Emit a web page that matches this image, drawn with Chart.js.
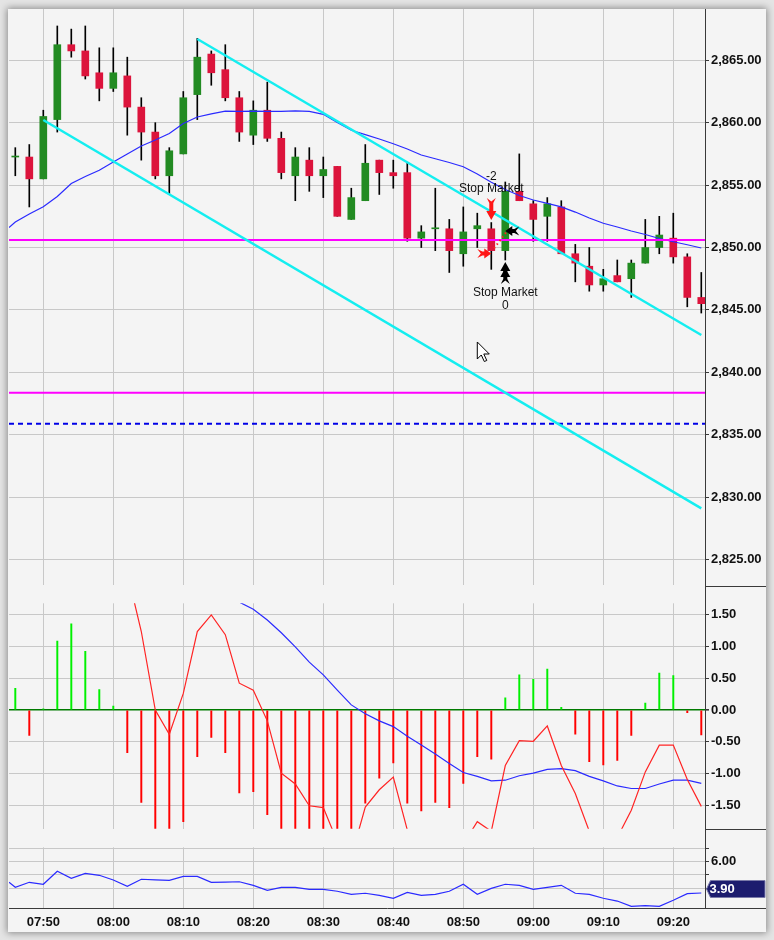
<!DOCTYPE html>
<html>
<head>
<meta charset="utf-8">
<script src="https://cdn.jsdelivr.net/npm/chart.js@4.4.1/dist/chart.umd.min.js"></script>
<style>
html, body { margin: 0; padding: 0; background: #e4e4e4; width: 774px; height: 940px; overflow: hidden; }
#frame { position: absolute; left: 8px; top: 9px; width: 758px; height: 923px; background: #f4f4f4; box-shadow: 0 0 7px 1px rgba(0,0,0,0.4); }
canvas { position: absolute; }
</style>
</head>
<body>
<div id="frame"></div>
<canvas id="priceChart" width="757" height="578" style="left:9px;top:9px"></canvas>
<canvas id="oscChart" width="757" height="243" style="left:9px;top:587px"></canvas>
<canvas id="volChart" width="757" height="102" style="left:9px;top:830px"></canvas>
<script>
// 2 minute bars
const times = ['07:46','07:48','07:50','07:52','07:54','07:56','07:58','08:00','08:02','08:04',
  '08:06','08:08','08:10','08:12','08:14','08:16','08:18','08:20','08:22','08:24',
  '08:26','08:28','08:30','08:32','08:34','08:36','08:38','08:40','08:42','08:44',
  '08:46','08:48','08:50','08:52','08:54','08:56','08:58','09:00','09:02','09:04',
  '09:06','09:08','09:10','09:12','09:14','09:16','09:18','09:20','09:22','09:24'];
const opens = [2857.25,2857.25,2855.5,2860.25,2866.25,2865.75,2864.0,2862.75,2863.75,2861.25,
  2859.25,2855.75,2857.5,2862.25,2865.5,2864.25,2862.0,2859.0,2861.0,2858.75,
  2855.75,2857.0,2855.75,2856.5,2852.25,2853.75,2857.0,2856.0,2856.0,2850.75,
  2851.5,2851.5,2849.5,2851.5,2851.5,2849.75,2854.5,2853.5,2852.5,2853.25,
  2849.5,2848.5,2847.0,2847.75,2847.5,2848.75,2850.0,2850.75,2849.25,2846.0];
const highs = [2858.0,2858.25,2861.0,2867.75,2867.5,2867.75,2866.0,2866.0,2865.25,2862.0,
  2860.0,2858.0,2862.5,2866.75,2865.75,2866.25,2862.5,2861.75,2863.25,2859.25,
  2858.0,2858.0,2857.25,2856.5,2854.75,2858.25,2857.0,2857.0,2856.75,2851.75,
  2854.75,2852.25,2853.25,2852.75,2852.0,2855.25,2857.5,2853.75,2854.0,2853.75,
  2850.25,2850.0,2848.25,2849.0,2849.0,2852.25,2852.5,2852.75,2849.5,2848.0];
const lows = [2855.75,2853.25,2855.5,2859.25,2865.25,2863.5,2861.75,2862.5,2859.0,2857.0,
  2855.5,2854.25,2857.5,2860.25,2863.0,2861.75,2858.5,2858.25,2858.5,2855.5,
  2853.75,2854.5,2854.0,2852.5,2852.25,2853.75,2854.25,2854.75,2850.5,2850.0,
  2849.75,2848.0,2848.5,2850.0,2848.25,2849.0,2853.75,2850.5,2850.5,2849.5,
  2847.25,2846.5,2846.5,2847.25,2846.0,2848.75,2849.5,2848.75,2845.25,2844.75];
const closes = [2857.25,2855.5,2860.5,2866.25,2865.75,2863.75,2862.75,2864.0,2861.25,2859.25,
  2855.75,2857.75,2862.0,2865.25,2864.0,2862.0,2859.25,2861.0,2858.75,2856.0,
  2857.25,2855.75,2856.25,2852.5,2854.0,2856.75,2856.0,2855.75,2850.75,2851.25,
  2851.5,2849.75,2851.25,2851.75,2849.75,2854.5,2853.75,2852.25,2853.5,2849.5,
  2848.75,2847.0,2847.5,2847.25,2848.75,2850.0,2851.0,2849.25,2846.0,2845.5];
const movingAvg = [2852.04,2852.69,2853.27,2854.09,2855.13,2855.69,2856.19,2856.85,2857.49,2858.13,
  2858.61,2859.13,2859.94,2860.46,2860.71,2860.92,2860.90,2860.92,2860.91,2860.91,
  2860.94,2860.90,2860.67,2860.02,2859.39,2859.05,2858.69,2858.31,2857.89,2857.41,
  2857.11,2856.81,2856.47,2855.89,2855.23,2854.65,2854.17,2853.81,2853.53,2853.25,
  2852.84,2852.36,2851.94,2851.64,2851.32,2851.04,2850.72,2850.46,2850.22,2849.96];
// average value at the left edge of the window, before the first bar
const movingAvgEdge = { time: 465.1, price: 2851.6 };

// drawn objects on the price panel
const magentaLevels = [2850.6, 2838.37];
const dashedLevel = 2835.88;
const trendUpperTimes = ['08:12', '09:24'];
const trendUpperPrices = [2866.71, 2842.99];
const trendLowerTimes = ['07:50', '09:24'];
const trendLowerPrices = [2860.22, 2829.10];
const tradeLineMinutes = [534.4, 536.2];
const tradeLinePrices = [2849.94, 2851.27];
const markerTimes = ['08:54', '08:56', '08:54', '08:56'];
const markerPrices = [2852.2, 2848.84, 2849.53, 2851.32];
const markerKinds = ['down', 'up', 'right', 'left'];
const markerColors = ['#ff1616', '#000000', '#ff1616', '#000000'];
const noteTimes = ['08:54', '08:54', '08:56', '08:56'];
const notePrices = [2855.67, 2854.69, 2846.35, 2845.31];
const noteTexts = ['-2', 'Stop Market', 'Stop Market', '0'];
const cursorTime = '08:52';
const cursorPrice = 2842.43;

// oscillator panel
const oscHist = [0.34,-0.40,0.02,1.08,1.35,0.92,0.32,0.06,-0.67,-1.45,
  -2.05,-2.2,-1.75,-0.73,-0.43,-0.67,-1.30,-1.28,-1.64,-1.98,
  -2.15,-2.3,-2.35,-2.4,-2.2,-1.46,-1.07,-0.83,-1.46,-1.58,
  -1.45,-1.53,-1.15,-0.73,-0.77,0.19,0.55,0.48,0.64,0.04,
  -0.38,-0.81,-0.86,-0.79,-0.40,0.11,0.58,0.54,-0.04,-0.39];
const oscFast = [2.6,2.75,2.9,3.3,3.55,3.5,3.2,2.8,2.15,1.23,
  0.0,-0.38,0.26,1.23,1.49,1.18,0.42,0.31,-0.17,-0.99,
  -1.16,-1.50,-1.53,-2.06,-2.3,-1.52,-1.25,-1.05,-1.88,-2.1,
  -2.3,-2.2,-2.1,-1.75,-1.9,-0.87,-0.48,-0.49,-0.25,-0.87,
  -1.31,-1.9,-2.1,-2.0,-1.57,-0.97,-0.55,-0.55,-1.09,-1.51];
const oscSlow = [2.3,2.4,2.5,2.6,2.7,2.8,2.85,2.85,2.8,2.7,
  2.55,2.4,2.25,2.1,1.95,1.81,1.69,1.58,1.41,1.21,
  0.99,0.75,0.55,0.31,0.08,-0.06,-0.17,-0.26,-0.41,-0.55,
  -0.69,-0.84,-0.98,-1.04,-1.11,-1.10,-1.03,-0.99,-0.93,-0.92,
  -0.95,-1.04,-1.11,-1.19,-1.23,-1.23,-1.16,-1.10,-1.10,-1.15];

// lower panel
const lowerLine = [4.06,4.44,4.29,5.27,4.74,5.12,4.97,4.61,4.14,4.67,
  4.63,4.59,4.89,4.89,4.44,4.46,4.48,4.21,3.83,4.06,
  4.06,3.91,3.91,3.76,3.53,3.61,3.45,3.23,3.68,3.45,
  3.53,3.76,4.29,3.53,3.98,4.29,4.21,3.91,4.06,4.21,
  3.61,3.53,3.23,3.02,2.62,2.67,2.62,3.08,3.58,3.63];
const lowerEdge = { time: 465.1, value: 4.44 };
const lowerTag = 3.90;

// axis ticks
const timeTickLabels = ['07:50','08:00','08:10','08:20','08:30','08:40','08:50','09:00','09:10','09:20'];
const priceTicks = [2825, 2830, 2835, 2840, 2845, 2850, 2855, 2860, 2865];
const oscTicks = [-1.5, -1, -0.5, 0, 0.5, 1, 1.5];
const lowerTicks = [4, 5, 6, 7];
const lowerLabelled = [6];

const xMin = 465.1, xMax = 564.53;
const toMin = s => Number(s.slice(0, 2)) * 60 + Number(s.slice(3, 5));
const barMinutes = times.map(toMin);
const timeTickMinutes = timeTickLabels.map(toMin);

Chart.defaults.font.family = '"Liberation Sans", Arial, sans-serif';
Chart.defaults.animation = false;

const GRID = '#c8c8c8';
const AXIS_LINE = '#3a3a3a';

function timeAxis(showLabels) {
    return {
        type: 'linear', min: xMin, max: xMax, offset: false,
        afterBuildTicks: a => { a.ticks = timeTickMinutes.map(v => ({ value: v })); },
        afterFit: a => { a.height = showLabels ? 23.7 : 0; a.paddingLeft = 0; a.paddingRight = 0; },
        grid: { color: GRID, drawTicks: false, offset: false },
        border: { display: false },
        ticks: {
            display: showLabels, padding: 6, color: '#111', autoSkip: false, maxRotation: 0,
            font: { size: 13, weight: 'bold' },
            callback: (v, i) => timeTickLabels[i]
        }
    };
}

function valueAxis(min, max, tickValues, fmt, gridColor, gridWidth) {
    return {
        position: 'right', min: min, max: max,
        afterBuildTicks: a => { a.ticks = tickValues.map(v => ({ value: v })); },
        afterFit: a => { a.width = 61; a.paddingTop = 0; a.paddingBottom = 0; },
        grid: { color: gridColor || GRID, lineWidth: gridWidth || 1, tickColor: AXIS_LINE, tickLength: 4 },
        border: { display: false },
        ticks: { padding: 2, color: '#111', font: { size: 13, weight: 'bold' }, callback: fmt }
    };
}

// separators and axis lines of the window
const frameLines = {
    id: 'frameLines',
    afterDraw(chart, args, opts) {
        const { ctx, chartArea: a, width, height } = chart;
        const x = Math.round(a.right) + 0.5;
        ctx.save();
        ctx.strokeStyle = AXIS_LINE;
        ctx.lineWidth = 1;
        ctx.beginPath();
        if (opts.axisBottom) {
            const yb = Math.round(a.bottom) + 0.5;
            ctx.moveTo(x, 0); ctx.lineTo(x, yb);
            ctx.moveTo(0, yb); ctx.lineTo(width, yb);
        } else {
            ctx.moveTo(x, 0); ctx.lineTo(x, height);
            ctx.moveTo(a.right, height - 0.5); ctx.lineTo(width, height - 0.5);
        }
        ctx.stroke();
        ctx.restore();
    }
};

function drawArrow(ctx, px, py, kind, color) {
    const rot = { down: 0, up: Math.PI, right: -Math.PI / 2, left: Math.PI / 2 }[kind];
    const vertical = kind === 'down' || kind === 'up';
    const len = vertical ? 22 : 14;
    const head = vertical ? 9 : 7;
    ctx.save();
    ctx.translate(px, py);
    ctx.rotate(rot);
    ctx.fillStyle = color;
    ctx.beginPath();
    ctx.moveTo(0, 0);
    ctx.lineTo(-5, -head);
    ctx.lineTo(-2, -head);
    ctx.lineTo(-2, -len + 5);
    ctx.lineTo(-4.5, -len);
    ctx.lineTo(0, -len + 3.5);
    ctx.lineTo(4.5, -len);
    ctx.lineTo(2, -len + 5);
    ctx.lineTo(2, -head);
    ctx.lineTo(5, -head);
    ctx.closePath();
    ctx.fill();
    if (kind === 'up') {
        ctx.beginPath();
        ctx.moveTo(0, -6); ctx.lineTo(-5, -15); ctx.lineTo(5, -15);
        ctx.closePath();
        ctx.fill();
    }
    ctx.restore();
}

const tradeMarks = {
    id: 'tradeMarks',
    afterDatasetsDraw(chart) {
        const { ctx, scales: { x, y } } = chart;
        ctx.save();
        ctx.font = '12px "Liberation Sans", Arial, sans-serif';
        ctx.fillStyle = '#111';
        ctx.textAlign = 'center';
        ctx.textBaseline = 'middle';
        noteTexts.forEach((txt, i) => {
            ctx.fillText(txt, x.getPixelForValue(toMin(noteTimes[i])), y.getPixelForValue(notePrices[i]));
        });
        markerKinds.forEach((kind, i) => {
            drawArrow(ctx, x.getPixelForValue(toMin(markerTimes[i])), y.getPixelForValue(markerPrices[i]), kind, markerColors[i]);
        });
        // mouse pointer
        const cx = x.getPixelForValue(toMin(cursorTime)), cy = y.getPixelForValue(cursorPrice);
        ctx.translate(cx, cy);
        ctx.beginPath();
        ctx.moveTo(0, 0); ctx.lineTo(0, 17); ctx.lineTo(4, 13); ctx.lineTo(7, 19.5);
        ctx.lineTo(9.5, 18.5); ctx.lineTo(6.5, 12); ctx.lineTo(12, 12);
        ctx.closePath();
        ctx.fillStyle = '#fff';
        ctx.fill();
        ctx.strokeStyle = '#000';
        ctx.lineWidth = 1;
        ctx.stroke();
        ctx.restore();
    }
};

const valueTag = {
    id: 'valueTag',
    afterDraw(chart, args, opts) {
        const { ctx, chartArea: a, width, scales: { y } } = chart;
        const py = Math.round(y.getPixelForValue(opts.value));
        const x0 = a.right + 1.5, x1 = width - 1;
        ctx.save();
        ctx.beginPath();
        ctx.moveTo(x0, py);
        ctx.lineTo(x0 + 4, py - 8.5);
        ctx.lineTo(x1, py - 8.5);
        ctx.lineTo(x1, py + 8.5);
        ctx.lineTo(x0 + 4, py + 8.5);
        ctx.closePath();
        ctx.fillStyle = '#1c1c6e';
        ctx.fill();
        ctx.strokeStyle = '#7a7aa8';
        ctx.lineWidth = 1;
        ctx.stroke();
        ctx.fillStyle = '#fff';
        ctx.font = 'bold 13px "Liberation Sans", Arial, sans-serif';
        ctx.textBaseline = 'middle';
        ctx.fillText(opts.value.toFixed(2), x0 + 3, py + 0.5);
        ctx.restore();
    }
};

function twoPoint(tA, tB, pA, pB) {
    return [{ x: tA, y: pA }, { x: tB, y: pB }];
}

const lineBase = { type: 'line', pointRadius: 0, fill: false, tension: 0 };

// price panel
new Chart(document.getElementById('priceChart'), {
    type: 'bar',
    data: {
        datasets: [
            Object.assign({}, lineBase, {
                data: twoPoint(xMin, xMax, magentaLevels[0], magentaLevels[0]),
                borderColor: '#ff00ff', borderWidth: 2, order: 4
            }),
            Object.assign({}, lineBase, {
                data: twoPoint(xMin, xMax, magentaLevels[1], magentaLevels[1]),
                borderColor: '#ff00ff', borderWidth: 2, order: 4
            }),
            Object.assign({}, lineBase, {
                data: twoPoint(xMin, xMax, dashedLevel, dashedLevel),
                borderColor: '#0000e6', borderWidth: 2, borderDash: [5, 4], order: 4
            }),
            Object.assign({}, lineBase, {
                data: twoPoint(toMin(trendUpperTimes[0]), toMin(trendUpperTimes[1]), trendUpperPrices[0], trendUpperPrices[1]),
                borderColor: '#14eef0', borderWidth: 2.5, order: 3
            }),
            Object.assign({}, lineBase, {
                data: twoPoint(toMin(trendLowerTimes[0]), toMin(trendLowerTimes[1]), trendLowerPrices[0], trendLowerPrices[1]),
                borderColor: '#14eef0', borderWidth: 2.5, order: 3
            }),
            Object.assign({}, lineBase, {
                data: [{ x: movingAvgEdge.time, y: movingAvgEdge.price }]
                    .concat(barMinutes.map((m, i) => ({ x: m, y: movingAvg[i] }))),
                borderColor: '#2a2aff', borderWidth: 1.2, order: 5
            }),
            Object.assign({}, lineBase, {
                data: twoPoint(tradeLineMinutes[0], tradeLineMinutes[1], tradeLinePrices[0], tradeLinePrices[1]),
                borderColor: '#ff2020', borderWidth: 2, borderDash: [1.5, 3], order: 2
            }),
            {
                type: 'bar',
                data: barMinutes.map((m, i) => ({ x: m, y: [lows[i], highs[i]] })),
                backgroundColor: '#000', barThickness: 1, grouped: false, order: 10
            },
            {
                type: 'bar',
                data: barMinutes.map((m, i) => ({ x: m, y: [opens[i], closes[i]] })),
                backgroundColor: closes.map((c, i) => c >= opens[i] ? '#228b22' : '#dc143c'),
                barThickness: 7, minBarLength: 1, grouped: false, order: 9
            }
        ]
    },
    options: {
        responsive: false,
        layout: { autoPadding: false, padding: { top: 0, bottom: 2, left: 0, right: 0 } },
        plugins: { legend: { display: false }, tooltip: { enabled: false }, frameLines: { axisBottom: false } },
        scales: {
            x: timeAxis(false),
            y: valueAxis(2822.96, 2869.11, priceTicks,
                v => v.toLocaleString('en-US', { minimumFractionDigits: 2, maximumFractionDigits: 2 }))
        }
    },
    plugins: [frameLines, tradeMarks]
});

// oscillator panel
new Chart(document.getElementById('oscChart'), {
    type: 'bar',
    data: {
        datasets: [
            Object.assign({}, lineBase, {
                data: barMinutes.map((m, i) => ({ x: m, y: oscFast[i] })),
                borderColor: '#ff2424', borderWidth: 1.2, order: 1
            }),
            Object.assign({}, lineBase, {
                data: barMinutes.map((m, i) => ({ x: m, y: oscSlow[i] })),
                borderColor: '#2a2aff', borderWidth: 1.2, order: 2
            }),
            {
                type: 'bar',
                data: barMinutes.map((m, i) => ({ x: m, y: oscHist[i] })),
                backgroundColor: oscHist.map(v => v >= 0 ? '#00f000' : '#ff0000'),
                barThickness: 1.3, grouped: false, order: 5
            }
        ]
    },
    options: {
        responsive: false,
        layout: { autoPadding: false, padding: { top: 16.3, bottom: 1.3, left: 0, right: 0 } },
        plugins: { legend: { display: false }, tooltip: { enabled: false }, frameLines: { axisBottom: false } },
        scales: {
            x: timeAxis(false),
            y: valueAxis(-1.86, 1.672, oscTicks, v => v.toFixed(2),
                c => (c.tick && c.tick.value === 0) ? '#007a00' : GRID,
                c => (c.tick && c.tick.value === 0) ? 1.6 : 1)
        }
    },
    plugins: [frameLines]
});

// lower panel
new Chart(document.getElementById('volChart'), {
    type: 'line',
    data: {
        datasets: [
            Object.assign({}, lineBase, {
                data: [{ x: lowerEdge.time, y: lowerEdge.value }]
                    .concat(barMinutes.map((m, i) => ({ x: m, y: lowerLine[i] }))),
                borderColor: '#2a2aff', borderWidth: 1.2
            })
        ]
    },
    options: {
        responsive: false,
        layout: { autoPadding: false, padding: { top: 17.3, bottom: 0, left: 0, right: 0 } },
        plugins: {
            legend: { display: false }, tooltip: { enabled: false },
            frameLines: { axisBottom: true },
            valueTag: { value: lowerTag }
        },
        scales: {
            x: timeAxis(true),
            y: valueAxis(2.47, 7.09, lowerTicks, v => lowerLabelled.includes(v) ? v.toFixed(2) : '')
        }
    },
    plugins: [frameLines, valueTag]
});
</script>
</body>
</html>
